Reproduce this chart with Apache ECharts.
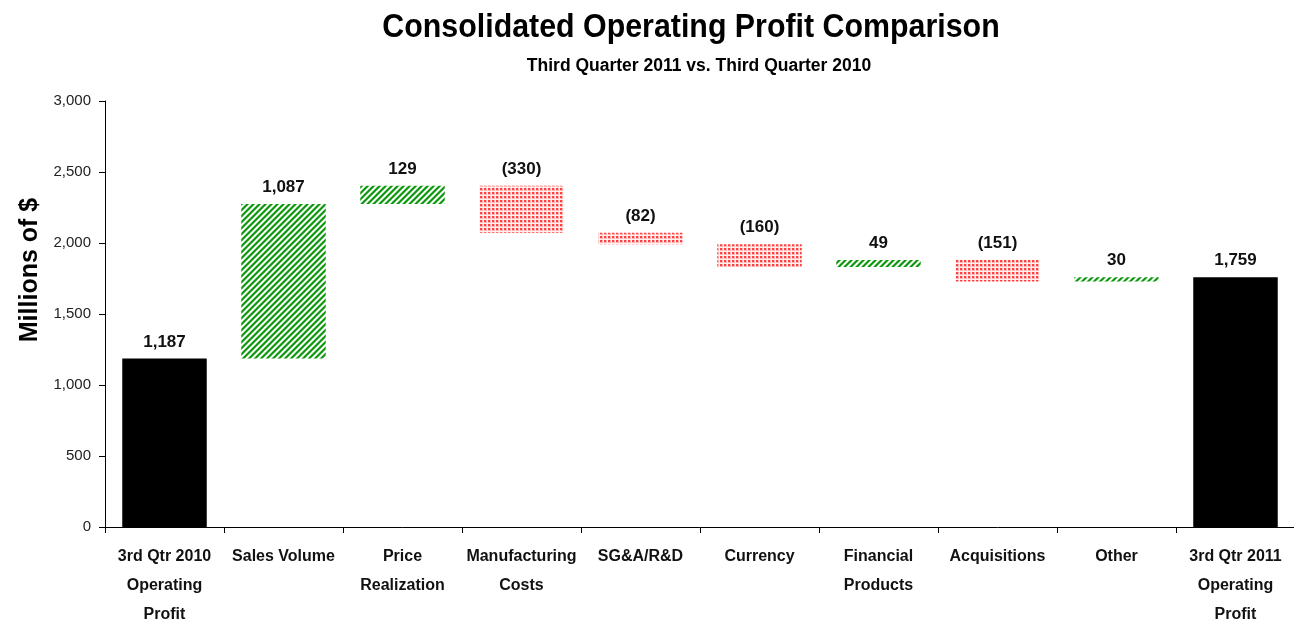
<!DOCTYPE html>
<html>
<head>
<meta charset="utf-8">
<script src="https://cdn.jsdelivr.net/npm/echarts@6/dist/echarts.min.js"></script>
<style>
html,body{margin:0;padding:0;background:#fff;}
#chart{width:1294px;height:624px;}
</style>
</head>
<body>
<div id="chart"></div>
<script>
var categories=['3rd Qtr 2010\nOperating\nProfit','Sales Volume','Price\nRealization','Manufacturing\nCosts','SG&A/R&D','Currency','Financial\nProducts','Acquisitions','Other','3rd Qtr 2011\nOperating\nProfit'];
var startValue=1187;
var changes=[1087,129,-330,-82,-160,49,-151,30];
var endValue=1759;
var yTicks=[0,500,1000,1500,2000,2500,3000];

var FONT='"Liberation Sans Narrow","Arial Narrow","Liberation Sans",Arial,sans-serif';

// build waterfall series
var base=[],up=[],down=[],total=[],labels=[];
var run=startValue;
base.push(0);total.push(startValue);up.push('-');down.push('-');labels.push(startValue);
for(var i=0;i<changes.length;i++){
  var c=changes[i];
  if(c>=0){
    base.push(run);up.push(c);down.push('-');
  }else{
    base.push(run+c);down.push(-c);up.push('-');
  }
  total.push('-');
  labels.push(c);
  run=run+c;
}
base.push(0);total.push(endValue);up.push('-');down.push('-');labels.push(endValue);

function fmt(v){
  var s=Math.abs(v).toString().replace(/\B(?=(\d{3})+(?!\d))/g,',');
  return v<0?'('+s+')':s;
}

function greenTile(){
  var n=6,cv=document.createElement('canvas');
  cv.width=n;cv.height=n;
  var ctx=cv.getContext('2d');
  var img=ctx.createImageData(n,n);
  var cols=[[16,150,16],[16,150,16],[90,190,90],[255,255,255],[250,255,250],[150,215,150]];
  for(var y=0;y<n;y++){for(var x=0;x<n;x++){
    var k=(x+y)%n,p=(y*n+x)*4;
    img.data[p]=cols[k][0];img.data[p+1]=cols[k][1];img.data[p+2]=cols[k][2];
    img.data[p+3]=255;
  }}
  ctx.putImageData(img,0,0);
  return cv;
}
function redTile(){
  var n=4,cv=document.createElement('canvas');
  cv.width=n;cv.height=n;
  var ctx=cv.getContext('2d');
  ctx.fillStyle='#fff0f0';ctx.fillRect(0,0,n,n);
  ctx.fillStyle='#ffb4b4';ctx.fillRect(0,0,3,3);
  ctx.fillStyle='#ff4040';ctx.fillRect(0,0,2,2);
  return cv;
}
var greenPat={image:greenTile(),repeat:'repeat'};
var redPat={image:redTile(),repeat:'repeat'};

var lbl={show:true,position:'top',distance:8,color:'#111',fontFamily:FONT,fontWeight:'bold',fontSize:17,
  formatter:function(p){return fmt(labels[p.dataIndex]);}};

var chart=echarts.init(document.getElementById('chart'));
chart.setOption({
  animation:false,
  backgroundColor:'#fff',
  title:{
    text:'Third Quarter 2011 vs. Third Quarter 2010',
    left:694,top:52,textAlign:'center',
    textStyle:{fontFamily:FONT,fontWeight:'bold',fontSize:17.5,color:'#000'}
  },
  graphic:[{
    type:'text',x:691,y:28,scaleX:0.92,
    style:{text:'Consolidated Operating Profit Comparison',fontFamily:FONT,fontWeight:'bold',fontSize:33,fill:'#000',align:'center',verticalAlign:'middle'}
  },{
    type:'text',x:30,y:270,rotation:Math.PI/2,
    style:{text:'Millions of $',fontFamily:'"Liberation Sans",Arial,sans-serif',fontWeight:'bold',fontSize:25,fill:'#000',align:'center',verticalAlign:'middle'}
  }],
  grid:{left:105,right:-1,top:101,bottom:97,containLabel:false,outerBoundsMode:'none'},
  xAxis:{
    type:'category',data:categories,
    axisLine:{lineStyle:{color:'#000',width:1}},
    axisTick:{show:true,length:6,lineStyle:{color:'#000'}},
    axisLabel:{interval:0,margin:15,color:'#111',fontFamily:FONT,fontWeight:'bold',fontSize:16,lineHeight:29}
  },
  yAxis:{
    type:'value',min:yTicks[0],max:yTicks[yTicks.length-1],interval:500,
    splitLine:{show:false},
    axisLine:{show:true,lineStyle:{color:'#000'}},
    axisTick:{show:true,length:6,lineStyle:{color:'#000'}},
    axisLabel:{margin:14,color:'#222',fontFamily:FONT,fontSize:15,
      formatter:function(v){return fmt(v);}}
  },
  series:[
    {type:'bar',stack:'wf',data:base,barWidth:'71%',itemStyle:{color:'transparent'},silent:true},
    {type:'bar',stack:'wf',data:total,itemStyle:{color:'#000'},label:lbl},
    {type:'bar',stack:'wf',data:up,itemStyle:{color:greenPat},label:lbl},
    {type:'bar',stack:'wf',data:down,itemStyle:{color:redPat},label:lbl}
  ]
});
</script>
</body>
</html>
